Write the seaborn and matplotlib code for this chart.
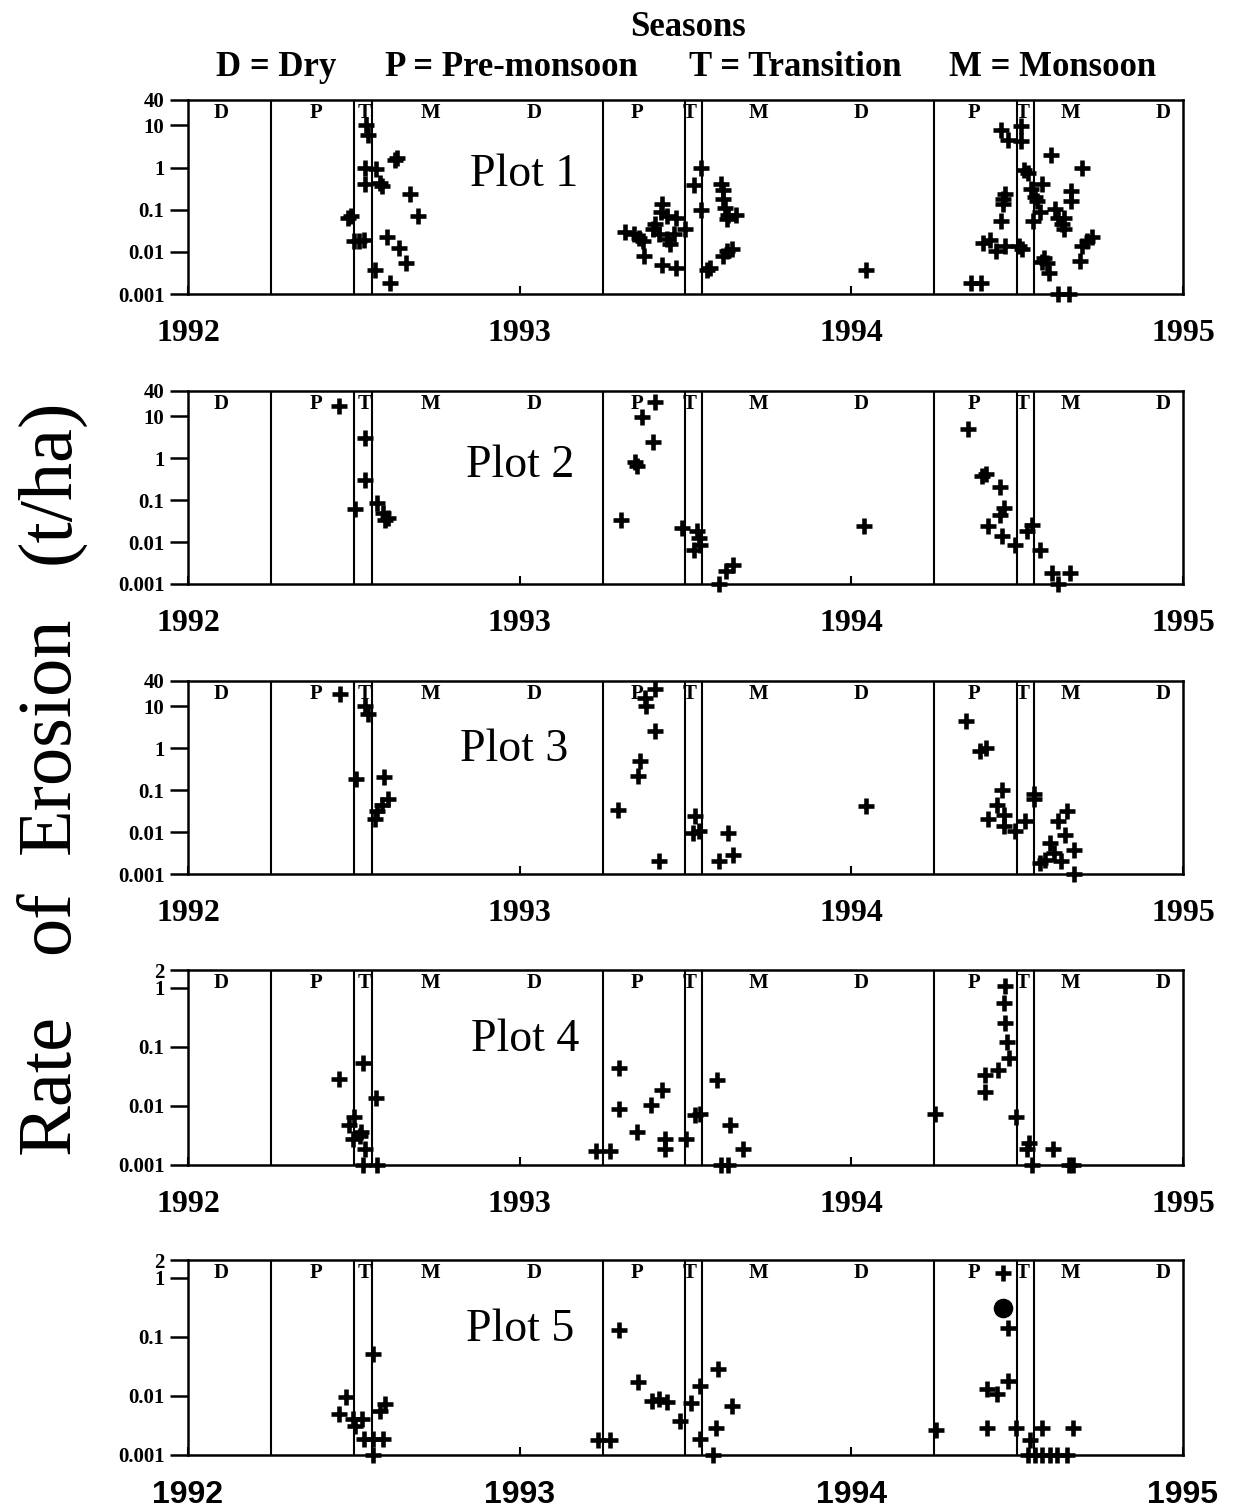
import matplotlib
matplotlib.use("Agg")
import matplotlib.pyplot as plt
import matplotlib.ticker as mticker
import seaborn as sns
import pandas as pd

# ---------------- data ----------------
years = [1992, 1993, 1994, 1995]
year_labels = ["1992", "1993", "1994", "1995"]

season_bounds = [1992.25, 1992.5, 1992.555, 1993.25, 1993.5, 1993.55, 1994.25, 1994.5, 1994.55]
season_letters = ["D", "P", "T", "M", "D", "P", "T", "M", "D", "P", "T", "M", "D"]
season_letter_x = [1992.10, 1992.385, 1992.533, 1992.73, 1993.045, 1993.355, 1993.513,
                   1993.72, 1994.03, 1994.37, 1994.516, 1994.66, 1994.94]

plot_titles = ["Plot 1", "Plot 2", "Plot 3", "Plot 4", "Plot 5"]

ticks_big = [0.001, 0.01, 0.1, 1, 10, 40]
ticklabels_big = ["0.001", "0.01", "0.1", "1", "10", "40"]
ticks_small = [0.001, 0.01, 0.1, 1, 2]
ticklabels_small = ["0.001", "0.01", "0.1", "1", "2"]

p1_x = [1992.482, 1992.492, 1992.500, 1992.515, 1992.530, 1992.537, 1992.543, 1992.535, 1992.566,
        1992.535, 1992.580, 1992.586, 1992.630, 1992.625, 1992.668, 1992.694, 1992.599, 1992.636,
        1992.657, 1992.564, 1992.609,
        1993.317, 1993.344, 1993.360, 1993.371, 1993.376, 1993.429, 1993.472, 1993.429, 1993.425,
        1993.443, 1993.408, 1993.403, 1993.420, 1993.443, 1993.452, 1993.472, 1993.466, 1993.498,
        1993.548, 1993.527, 1993.548, 1993.608, 1993.612, 1993.612, 1993.618, 1993.629, 1993.651,
        1993.624, 1993.575, 1993.565, 1993.624, 1993.612, 1993.640, 1994.043,
        1994.360, 1994.392, 1994.398, 1994.419, 1994.435, 1994.452, 1994.457, 1994.462, 1994.457,
        1994.462, 1994.452, 1994.473, 1994.511, 1994.511, 1994.505, 1994.516, 1994.522, 1994.532,
        1994.543, 1994.554, 1994.559, 1994.548, 1994.575, 1994.570, 1994.602, 1994.613, 1994.624,
        1994.634, 1994.640, 1994.640, 1994.581, 1994.591, 1994.597, 1994.575, 1994.624, 1994.656,
        1994.661, 1994.661, 1994.694, 1994.710, 1994.694, 1994.688, 1994.725]
p1_y = [0.065, 0.07, 0.018, 0.018, 0.019, 10, 6, 0.95, 0.9,
        0.4, 0.42, 0.36, 1.7, 1.5, 0.24, 0.072, 0.022, 0.0125,
        0.0054, 0.0038, 0.0018,
        0.029, 0.026, 0.021, 0.018, 0.0079, 0.005, 0.0041, 0.137, 0.09,
        0.07, 0.045, 0.035, 0.026, 0.02, 0.015, 0.065, 0.026, 0.034,
        0.95, 0.38, 0.10, 0.41, 0.30, 0.18, 0.11, 0.075, 0.075,
        0.06, 0.0041, 0.0038, 0.0104, 0.0079, 0.012, 0.0038,
        0.0018, 0.0018, 0.0164, 0.019, 0.0104, 0.054, 0.137, 0.24, 0.18,
        0.014, 7.9, 4.5, 4.2, 9.5, 0.014, 0.012, 0.86, 0.75,
        0.31, 0.2, 0.16, 0.054, 0.41, 0.086, 1.98, 0.104, 0.065,
        0.045, 0.034, 0.065, 0.0072, 0.0054, 0.0032, 0.0058, 0.001, 0.001,
        0.28, 0.16, 0.95, 0.018, 0.014, 0.006, 0.022]

p2_x = [1992.455, 1992.534, 1992.534, 1992.503, 1992.571, 1992.587, 1992.603, 1992.595,
        1993.307, 1993.349, 1993.354, 1993.402, 1993.370, 1993.407,
        1993.490, 1993.535, 1993.541, 1993.525, 1993.545, 1993.600, 1993.622, 1993.643,
        1994.038, 1994.351, 1994.395, 1994.405, 1994.449, 1994.459, 1994.449, 1994.411, 1994.454,
        1994.492, 1994.530, 1994.546, 1994.568, 1994.605, 1994.659, 1994.622]
p2_y = [18, 3.1, 0.31, 0.06, 0.086, 0.05, 0.038, 0.033,
        0.034, 0.79, 0.65, 2.4, 9.5, 21.7,
        0.022, 0.018, 0.0125, 0.0066, 0.0086, 0.001, 0.002, 0.0029,
        0.024, 5.0, 0.38, 0.41, 0.20, 0.066, 0.045, 0.024, 0.0137,
        0.0086, 0.018, 0.026, 0.0066, 0.0018, 0.0018, 0.001]

p3_x = [1992.459, 1992.533, 1992.543, 1992.506, 1992.591, 1992.602, 1992.586, 1992.570, 1992.565,
        1993.297, 1993.356, 1993.362, 1993.409, 1993.377, 1993.382, 1993.409, 1993.419,
        1993.530, 1993.524, 1993.541, 1993.627, 1993.600, 1993.643, 1994.043,
        1994.346, 1994.389, 1994.405, 1994.454, 1994.438, 1994.411, 1994.459, 1994.459,
        1994.492, 1994.524, 1994.551, 1994.551, 1994.622, 1994.649, 1994.643, 1994.600,
        1994.670, 1994.611, 1994.632, 1994.568, 1994.584, 1994.670]
p3_y = [20, 10, 6.5, 0.18, 0.20, 0.06, 0.045, 0.031, 0.02,
        0.034, 0.22, 0.5, 2.6, 16, 10.4, 26, 0.002,
        0.024, 0.0095, 0.0104, 0.0095, 0.002, 0.0029, 0.041,
        4.5, 0.86, 1.0, 0.1, 0.045, 0.02, 0.026, 0.0137,
        0.0104, 0.018, 0.079, 0.06, 0.018, 0.031, 0.0086, 0.0054,
        0.0038, 0.0032, 0.002, 0.0018, 0.0022, 0.001]

p4_x = [1992.454, 1992.529, 1992.566, 1992.502, 1992.486, 1992.497, 1992.523, 1992.518, 1992.534,
        1992.529, 1992.571,
        1993.300, 1993.300, 1993.428, 1993.396, 1993.353, 1993.438, 1993.438, 1993.231, 1993.273,
        1993.502, 1993.529, 1993.545, 1993.596, 1993.634, 1993.672, 1993.607, 1993.629,
        1994.251, 1994.404, 1994.404, 1994.443, 1994.475, 1994.470, 1994.464, 1994.459, 1994.464,
        1994.497, 1994.536, 1994.530, 1994.546, 1994.607, 1994.656, 1994.667]
p4_y = [0.029, 0.053, 0.0137, 0.0065, 0.0047, 0.0028, 0.0036, 0.0031, 0.0019,
        0.001, 0.001,
        0.044, 0.009, 0.0185, 0.0103, 0.0036, 0.0028, 0.0019, 0.00175, 0.00175,
        0.0028, 0.0069, 0.0074, 0.027, 0.0047, 0.0019, 0.001, 0.001,
        0.0074, 0.0173, 0.033, 0.041, 0.064, 0.123, 0.25, 0.55, 1.07,
        0.0065, 0.0024, 0.0019, 0.001, 0.0019, 0.001, 0.001]

p5_x = [1992.477, 1992.456, 1992.498, 1992.525, 1992.504, 1992.557, 1992.594, 1992.578, 1992.530,
        1992.557, 1992.589, 1992.557,
        1993.299, 1993.358, 1993.400, 1993.421, 1993.443, 1993.235, 1993.272,
        1993.484, 1993.516, 1993.543, 1993.543, 1993.598, 1993.641, 1993.592, 1993.582,
        1994.255, 1994.457, 1994.473, 1994.473, 1994.408, 1994.440, 1994.408, 1994.495, 1994.538,
        1994.576, 1994.668, 1994.533, 1994.555, 1994.576, 1994.598, 1994.620, 1994.650]
p5_y = [0.0097, 0.0049, 0.004, 0.004, 0.0031, 0.052, 0.0072, 0.0055, 0.0019,
        0.0019, 0.0019, 0.001,
        0.13, 0.017, 0.0082, 0.0088, 0.0079, 0.0018, 0.0018,
        0.0037, 0.0077, 0.0148, 0.0019, 0.029, 0.0067, 0.0029, 0.001,
        0.0027, 1.22, 0.14, 0.018, 0.013, 0.0107, 0.0029, 0.0029, 0.0018,
        0.0029, 0.0029, 0.001, 0.001, 0.001, 0.001, 0.001, 0.001]

p5_dot_x = [1994.457]
p5_dot_y = [0.31]

# ---------------- drawing ----------------
sns.set_theme(style="ticks")
plt.rcParams['font.family'] = ['Liberation Serif', 'DejaVu Serif']
plt.rcParams['text.color'] = 'black'
plt.rcParams['xtick.color'] = 'black'
plt.rcParams['ytick.color'] = 'black'
plt.rcParams['axes.labelcolor'] = 'black'
plt.rcParams['axes.linewidth'] = 1.8

fig = plt.figure(figsize=(12.34, 15.12), dpi=100)

W, H = 1234.0, 1512.0
left_px, right_px = 188, 1183
panel_px = [(100, 294), (391, 584), (681, 874), (970, 1165), (1260, 1455)]
title_pos = [(0.338, 0.613), (0.334, 0.611), (0.328, 0.642), (0.339, 0.641), (0.334, 0.641)]

xs_all = [p1_x, p2_x, p3_x, p4_x, p5_x]
ys_all = [p1_y, p2_y, p3_y, p4_y, p5_y]

for i in range(5):
    top, bot = panel_px[i]
    ax = fig.add_axes([left_px / W, 1 - bot / H, (right_px - left_px) / W, (bot - top) / H])
    ax.set_yscale('log')
    big = i < 3
    ax.set_xlim(1992, 1995)
    ax.set_ylim(0.001, 40 if big else 2)

    for b in season_bounds:
        ax.axvline(b, color='black', lw=1.5, zorder=2)

    df = pd.DataFrame({"year": xs_all[i], "rate": ys_all[i]})
    sns.scatterplot(data=df, x="year", y="rate", marker='+', s=120, color='black',
                    linewidth=3.3, ax=ax, clip_on=False, zorder=5, legend=False)
    if i == 4:
        dfd = pd.DataFrame({"year": p5_dot_x, "rate": p5_dot_y})
        sns.scatterplot(data=dfd, x="year", y="rate", marker='o', s=170, color='black',
                        edgecolor='black', ax=ax, zorder=6, legend=False)

    for lx, lt in zip(season_letter_x, season_letters):
        ax.text(lx, 0.985, lt, transform=ax.get_xaxis_transform(), ha='center', va='top',
                fontsize=15, fontweight='bold', color='black')

    ax.text(title_pos[i][0], title_pos[i][1], plot_titles[i], transform=ax.transAxes,
            ha='center', va='center', fontsize=33, color='black')

    ax.yaxis.set_minor_locator(mticker.NullLocator())
    ax.xaxis.set_minor_locator(mticker.NullLocator())
    if big:
        ax.set_yticks(ticks_big)
        ax.set_yticklabels(ticklabels_big)
    else:
        ax.set_yticks(ticks_small)
        ax.set_yticklabels(ticklabels_small)
    ax.set_xticks(years)
    ax.set_xticklabels(year_labels)
    ax.tick_params(axis='y', direction='out', length=13, width=1.8, pad=4,
                   labelsize=15, colors='black')
    ax.tick_params(axis='x', direction='in', length=6, width=1.5, pad=18,
                   labelsize=23, colors='black')
    for lab in ax.get_yticklabels():
        lab.set_fontweight('bold')
    for lab in ax.get_xticklabels():
        lab.set_fontweight('bold')
        if i == 4:
            lab.set_family(['Liberation Sans', 'DejaVu Sans'])
    ax.set_xlabel('')
    ax.set_ylabel('')
    for sp in ax.spines.values():
        sp.set_visible(True)
        sp.set_color('black')
        sp.set_linewidth(1.8)

# header
fig.text(688 / W, 1 - 27 / H, "Seasons", ha='center', va='center', fontsize=25,
         fontweight='bold', color='black')
for txt, cx in [("D = Dry", 276), ("P = Pre-monsoon", 511), ("T = Transition", 795), ("M = Monsoon", 1053)]:
    fig.text(cx / W, 1 - 68 / H, txt, ha='center', va='center', fontsize=25,
             fontweight='bold', color='black')

# y label, words spread along the left side
for word, cy in [("Rate", 1084), ("of", 922), ("Erosion", 735), ("(t/ha)", 481)]:
    fig.text(50 / W, 1 - cy / H, word, rotation=90, ha='center', va='center', fontsize=55,
             color='black')

fig.savefig("out.png", dpi=100)
